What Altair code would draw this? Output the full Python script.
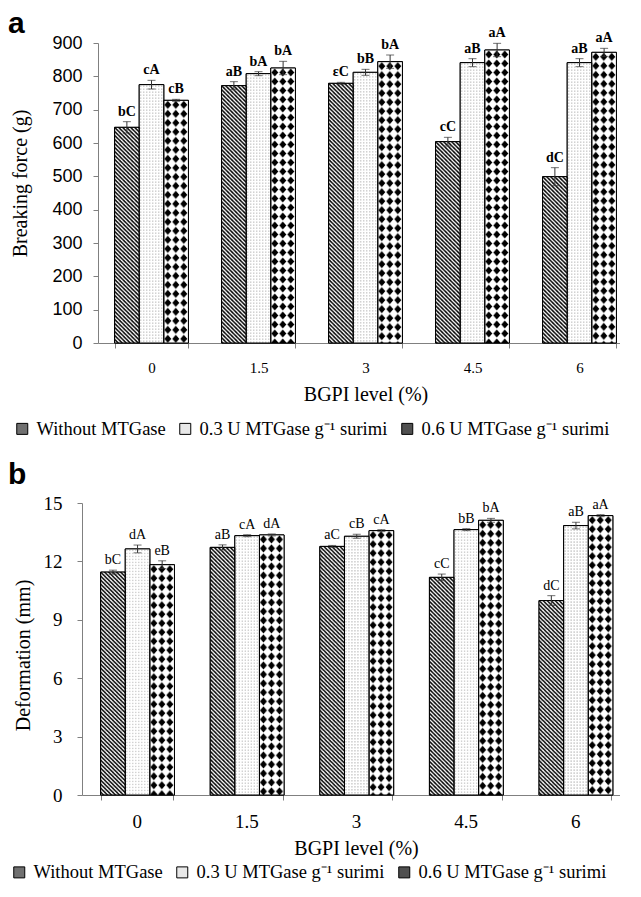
import altair as alt
import pandas as pd
from urllib.parse import quote

# ---------------- data ----------------
levels = ["0", "1.5", "3", "4.5", "6"]
series = ["Without MTGase", "0.3 U MTGase g\u207b\u00b9 surimi", "0.6 U MTGase g\u207b\u00b9 surimi"]

force_none = [647, 772, 779, 604, 499]
force_03 = [775, 808, 812, 841, 841]
force_06 = [728, 825, 844, 879, 872]
force_err_none = [17, 12, 3, 13, 27]
force_err_03 = [13, 6, 9, 12, 12]
force_err_06 = [3, 20, 20, 20, 12]
force_letters_none = ["bC", "aB", "\u03b5C", "cC", "dC"]
force_letters_03 = ["cA", "bA", "bB", "aB", "aB"]
force_letters_06 = ["cB", "bA", "bA", "aA", "aA"]

deform_none = [11.45, 12.72, 12.77, 11.18, 9.99]
deform_03 = [12.64, 13.32, 13.29, 13.63, 13.84]
deform_06 = [11.83, 13.36, 13.58, 14.11, 14.35]
deform_err_none = [0.1, 0.13, 0.05, 0.17, 0.25]
deform_err_03 = [0.2, 0.05, 0.1, 0.05, 0.17]
deform_err_06 = [0.2, 0.05, 0.05, 0.1, 0.05]
deform_letters_none = ["bC", "aB", "aC", "cC", "dC"]
deform_letters_03 = ["dA", "cA", "cB", "bB", "aB"]
deform_letters_06 = ["eB", "dA", "cA", "bA", "aA"]

legend_colors = ["#707070", "#e8e8e8", "#505050"]


def make_df(vals, errs, letters):
    rows = []
    for s, v, e, l in zip(series, vals, errs, letters):
        for lev, vi, ei, li in zip(levels, v, e, l):
            rows.append(dict(level=lev, series=s, value=vi, lo=vi - ei, hi=vi + ei, letter=li))
    return pd.DataFrame(rows)


force_df = make_df([force_none, force_03, force_06],
                   [force_err_none, force_err_03, force_err_06],
                   [force_letters_none, force_letters_03, force_letters_06])
deform_df = make_df([deform_none, deform_03, deform_06],
                    [deform_err_none, deform_err_03, deform_err_06],
                    [deform_letters_none, deform_letters_03, deform_letters_06])


# ---------------- fill patterns (textures) ----------------
def svg_url(inner, w, h):
    svg = ('<svg xmlns="http://www.w3.org/2000/svg" width="100%" height="100%">'
           f'<defs><pattern id="p" x="0" y="0" width="{w}" height="{h}" patternUnits="userSpaceOnUse">'
           f'{inner}</pattern></defs>'
           '<rect x="0" y="0" width="100%" height="100%" fill="url(#p)"/></svg>')
    return "data:image/svg+xml;charset=utf-8," + quote(svg)


hatch_url = svg_url('<rect width="4" height="4" fill="#fff"/>'
                    '<path d="M-1,-1L5,5M-1,3L1,5M3,-1L5,1" stroke="#000" stroke-width="1.5"/>', 4, 4)
dots_url = svg_url('<rect width="3" height="3" fill="#fff"/>'
                   '<rect x="1" y="1" width="1" height="1" fill="#9a9a9a"/>', 3, 3)
check_url = svg_url('<rect width="8" height="9" fill="#fff"/>'
                    '<path d="M4,0.5L7.5,4.5L4,8.5L0.5,4.5Z" fill="#000"/>', 8, 9)
pattern_urls = [hatch_url, dots_url, check_url]

SERIF = "Liberation Serif"
SANS = "Liberation Sans"


def panel(df, letter, width, height, xrange, pad, x_label_size, ydomain, yvalues,
          ytitle, ylabel_font, ylabel_size, ylabel_pad, ytitle_size, ytitle_x, ytitle_y,
          y_offset, xtitle_y, legend_x, legend_y, text_weight, title_offset, title_dy):
    if xrange is not None:
        xscale = alt.Scale(paddingInner=pad, paddingOuter=pad / 2, range=xrange)
    else:
        xscale = alt.Scale(paddingInner=pad, paddingOuter=pad / 2)
    xaxis = alt.Axis(title="BGPI level (%)", labelAngle=0, tickBand="extent", tickSize=5,
                     labelFont=SERIF, labelFontSize=x_label_size, labelPadding=12,
                     titleFont=SERIF, titleFontSize=20, titleFontWeight="normal",
                     titleBaseline="middle", titleY=xtitle_y)
    yaxis = alt.Axis(title=ytitle, values=yvalues, tickSize=5, offset=y_offset,
                     labelFont=ylabel_font, labelFontSize=ylabel_size, labelPadding=ylabel_pad,
                     titleFont=SERIF, titleFontSize=ytitle_size, titleFontWeight="normal",
                     titleBaseline="middle", titleX=ytitle_x, titleY=ytitle_y)
    yscale = alt.Scale(domain=ydomain, nice=False)

    def Y(field):
        return alt.Y(field, type="quantitative", stack=None, scale=yscale, axis=yaxis, title=ytitle)

    base = alt.Chart(df).encode(
        x=alt.X("level:N", sort=levels, scale=xscale, axis=xaxis),
        xOffset=alt.XOffset("series:N", sort=series, scale=alt.Scale(domain=series)),
    )
    bars = base.mark_bar(stroke="black", strokeWidth=1).encode(
        y=Y("value"),
        color=alt.Color("series:N", sort=series,
                        scale=alt.Scale(domain=series, range=legend_colors),
                        legend=alt.Legend(orient="none", legendX=legend_x, legendY=legend_y,
                                          direction="horizontal", title=None,
                                          symbolType="square", symbolSize=121,
                                          symbolStrokeColor="black", symbolStrokeWidth=1,
                                          labelFont=SERIF, labelFontSize=18.5, labelColor="black",
                                          labelLimit=0, labelOffset=5, columnPadding=10,
                                          padding=0)),
    )
    textures = [
        base.transform_filter(alt.datum.series == s).mark_image(aspect=False).encode(
            y=Y("value"), y2=alt.datum(0), url=alt.value(u))
        for s, u in zip(series, pattern_urls)
    ]
    outline = base.mark_bar(fillOpacity=0, stroke="black", strokeWidth=1).encode(y=Y("value"))
    rules = base.mark_rule(color="#333", strokeWidth=1).encode(y=Y("lo"), y2="hi:Q")
    cap_hi = base.mark_tick(color="#333", thickness=1, size=8).encode(y=Y("hi"))
    cap_lo = base.mark_tick(color="#333", thickness=1, size=8).encode(y=Y("lo"))
    labels = base.mark_text(baseline="bottom", dy=-3, font=SERIF, fontSize=14,
                            fontWeight=text_weight, color="black").encode(
        y=Y("hi"), text="letter:N")

    return alt.layer(bars, *textures, outline, rules, cap_hi, cap_lo, labels).properties(
        width=width, height=height,
        title=alt.TitleParams(letter, anchor="start", frame="group", dx=-90, dy=title_dy,
                              offset=title_offset, font=SANS, fontSize=30,
                              fontWeight="bold", color="black"),
    )


top = panel(force_df, "a", 535, 300, None, 0.31, 15, [0, 900], list(range(0, 901, 100)),
            "Breaking force (g)", SANS, 18, 11, 20, -78, 140, 0, 51, -85, 376.5, "bold", 0, 13)
bottom = panel(deform_df, "b", 532, 292, [-16, 532], 0.34, 19, [0, 15], list(range(0, 16, 3)),
               "Deformation (mm)", SERIF, 19, 15, 20, -59, 152, 16, 53, -88, 360, "normal", 4, 0)

chart = alt.vconcat(top, bottom, spacing=21).resolve_scale(color="independent").properties(
    padding={"left": 0, "top": 1, "right": -26, "bottom": 0},
).configure_view(stroke=None).configure_axis(
    grid=False, domainColor="#808080", tickColor="#808080",
    labelColor="black", titleColor="black"
)

chart.save("out.html", embed_options={"renderer": "svg", "actions": False})
